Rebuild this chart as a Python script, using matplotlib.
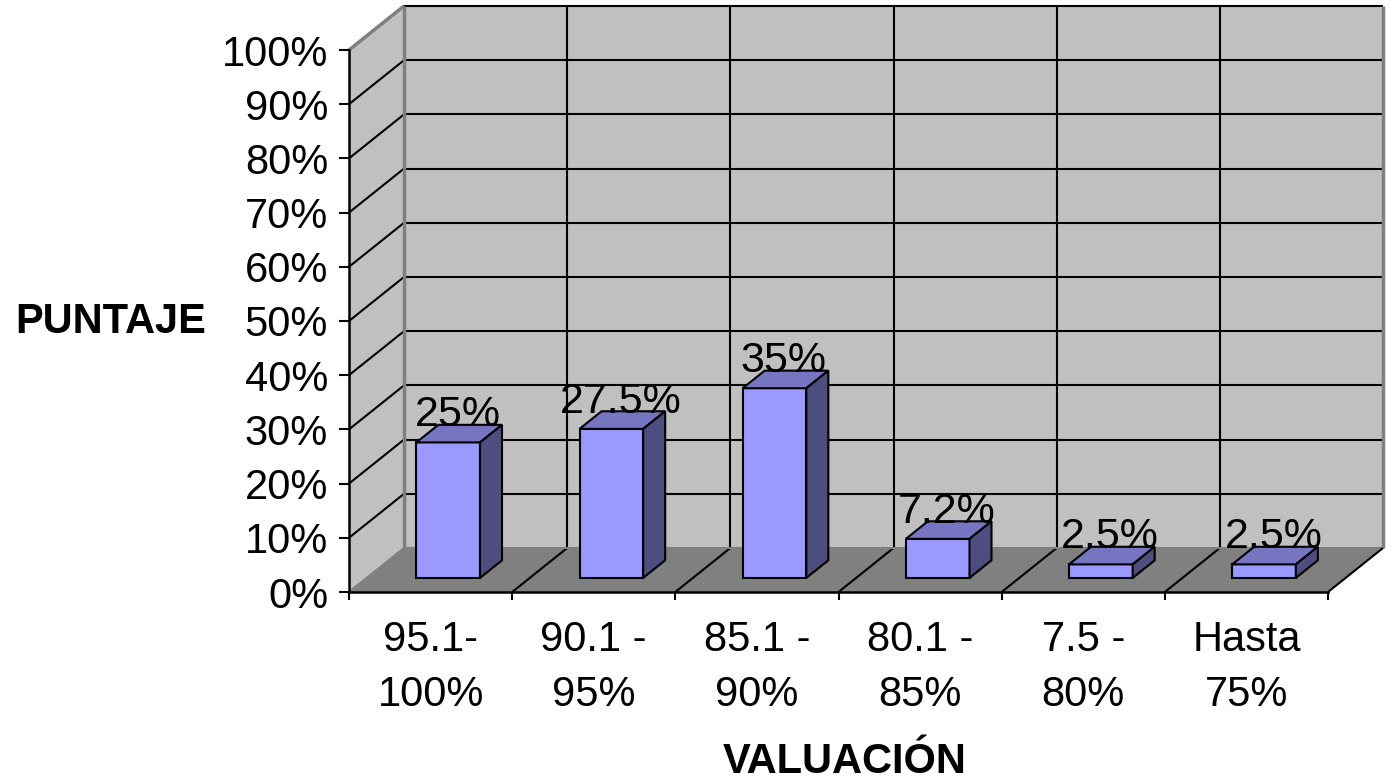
import numpy as np
import matplotlib
matplotlib.use("Agg")
import matplotlib.pyplot as plt
from matplotlib.patches import Polygon

plt.rcParams['font.family'] = ['Liberation Sans', 'DejaVu Sans']

categories = ["95.1-\n100%", "90.1 -\n95%", "85.1 -\n90%", "80.1 -\n85%", "7.5 -\n80%", "Hasta\n75%"]
values = [25, 27.5, 35, 7.2, 2.5, 2.5]
value_labels = ["25%", "27.5%", "35%", "7.2%", "2.5%", "2.5%"]
y_ticks = [0, 10, 20, 30, 40, 50, 60, 70, 80, 90, 100]

WALL = "#c0c0c0"
FLOOR = "#808080"
EDGE_GRAY = "#808080"
FRONT = "#9999ff"
TOP = "#7575c2"
SIDE = "#4d4d80"
FS = 30

W, H = 1394, 784
fig = plt.figure(figsize=(W / 100, H / 100), dpi=100)
fig.patch.set_facecolor("white")

# front plane of the 3d box
left, right, bottom, top = 349, 1328, 192, 734
ax = fig.add_axes([left / W, bottom / H, (right - left) / W, (top - bottom) / H])
n = len(categories)
ax.set_xlim(0, n)
ax.set_ylim(0, 100)
ax.patch.set_alpha(0)

# depth offset of the box in pixels, converted to data units
DEPTH_PX = (55, 44)
dxd = DEPTH_PX[0] / ((right - left) / n)
dyd = DEPTH_PX[1] / ((top - bottom) / 100)


def proj(x, v, d):
    return (x + d * dxd, v + d * dyd)


def face(pts, fc, ec, lw=1.5, z=1):
    ax.add_patch(Polygon(pts, closed=True, facecolor=fc, edgecolor=ec,
                         linewidth=lw, clip_on=False, zorder=z, joinstyle="miter"))


def line(p0, p1, color="black", lw=1.5, z=2):
    ax.plot([p0[0], p1[0]], [p0[1], p1[1]], color=color, lw=lw,
            clip_on=False, zorder=z, solid_capstyle="butt")


# walls and floor
face([proj(0, 0, 0), proj(0, 100, 0), proj(0, 100, 1), proj(0, 0, 1)], WALL, "none", z=1)
face([proj(0, 0, 1), proj(0, 100, 1), proj(n, 100, 1), proj(n, 0, 1)], WALL, "none", z=1)
face([proj(0, 0, 0), proj(0, 0, 1), proj(n, 0, 1), proj(n, 0, 0)], FLOOR, "none", z=1.5)

# gridlines on side wall and back wall
for t in y_ticks[1:]:
    line(proj(0, t, 0), proj(0, t, 1))
    line(proj(0, t, 1), proj(n, t, 1))
for k in range(1, n):
    line(proj(k, 0, 1), proj(k, 100, 1))
    line(proj(k, 0, 0), proj(k, 0, 1))

# wall outlines
line(proj(0, 100, 0), proj(0, 100, 1), EDGE_GRAY, lw=2.5)
line(proj(0, 0, 1), proj(0, 100, 1), EDGE_GRAY, lw=2.5)
line(proj(n, 0, 1), proj(n, 100, 1), EDGE_GRAY, lw=2.5)
line(proj(0, 0, 0), proj(0, 0, 1), EDGE_GRAY, lw=1.5)
line(proj(0, 0, 1), proj(n, 0, 1), EDGE_GRAY, lw=1.5)
line(proj(n, 0, 0), proj(n, 0, 1), "black", lw=1.5)

# bars
bw = 0.39
d0, d1 = 0.32, 0.72
for i, (v, lab) in enumerate(zip(values, value_labels)):
    c = i + 0.5
    x0, x1 = c - bw / 2, c + bw / 2
    face([proj(x0, 0, d0), proj(x0, v, d0), proj(x1, v, d0), proj(x1, 0, d0)], FRONT, "black", z=3)
    face([proj(x0, v, d0), proj(x1, v, d0), proj(x1, v, d1), proj(x0, v, d1)], TOP, "black", z=3)
    face([proj(x1, 0, d0), proj(x1, v, d0), proj(x1, v, d1), proj(x1, 0, d1)], SIDE, "black", z=3)
    tx, _ = proj(c, v, (d0 + d1) / 2)
    _, ty = proj(c, v, d1)
    ax.text(tx - 0.01, ty - 0.3, lab, ha="center", va="baseline", fontsize=31,
            color="black", zorder=4, clip_on=False)

# axes lines and ticks
for s in ["top", "right"]:
    ax.spines[s].set_visible(False)
for s in ["left", "bottom"]:
    ax.spines[s].set_linewidth(1.8)
    ax.spines[s].set_zorder(5)
ax.set_yticks(y_ticks)
ax.set_yticklabels([f"{t}%" for t in y_ticks])
ax.set_xticks(np.arange(n + 1))
ax.set_xticklabels([])
ax.set_xticks(np.arange(n) + 0.5, minor=True)
ax.set_xticklabels(categories, minor=True, linespacing=1.49)
ax.tick_params(axis="y", which="major", direction="out", length=7, width=1.5, pad=8, labelsize=FS)
ax.tick_params(axis="x", which="major", direction="out", length=6, width=1.5)
ax.tick_params(axis="x", which="minor", length=0, pad=20, labelsize=FS)

fig.text(15 / W, 1 - 322 / H, "PUNTAJE", ha="left", va="center", fontsize=FS, fontweight="bold")
fig.text(845 / W, 1 - 762 / H, "VALUACIÓN", ha="center", va="center", fontsize=FS, fontweight="bold")

fig.savefig("out.png", dpi=100)
